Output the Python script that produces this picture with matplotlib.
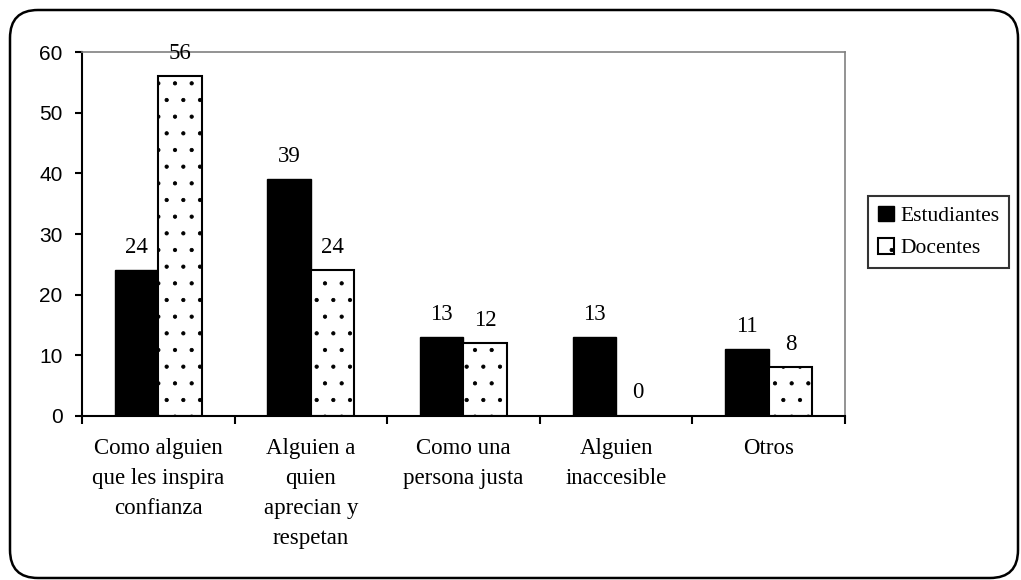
import numpy as np
import matplotlib.pyplot as plt
from matplotlib.patches import FancyBboxPatch

categorias = ["Como alguien\nque les inspira\nconfianza",
              "Alguien a\nquien\naprecian y\nrespetan",
              "Como una\npersona justa",
              "Alguien\ninaccesible",
              "Otros"]
estudiantes = [24, 39, 13, 13, 11]
docentes = [56, 24, 12, 0, 8]

plt.rcParams['hatch.linewidth'] = 0.6
plt.rcParams['hatch.color'] = '#333333'

fig = plt.figure(figsize=(10.21, 5.80), dpi=100)
ax = fig.add_axes([0.0803, 0.2828, 0.7473, 0.6275])

x = np.arange(len(categorias))
w = 0.285
b1 = ax.bar(x - w / 2, estudiantes, w, color='black', edgecolor='black',
            label='Estudiantes')
b2 = ax.bar(x + w / 2, docentes, w, color='white', edgecolor='black',
            linewidth=1.5, hatch='.', label='Docentes')

serif = ['Liberation Serif', 'DejaVu Serif']
for barras, vals in ((b1, estudiantes), (b2, docentes)):
    for r, v in zip(barras, vals):
        ax.annotate(str(v), (r.get_x() + r.get_width() / 2, v),
                    xytext=(0, 9), textcoords='offset points',
                    ha='center', va='bottom', fontsize=16.5, family=serif)

ax.set_xlim(-0.5, len(categorias) - 0.5)
ax.set_ylim(0, 60)
ax.set_yticks(range(0, 61, 10))
ax.tick_params(axis='y', labelsize=15, length=5, width=1.5, direction='out',
               pad=9)
for t in ax.get_yticklabels():
    t.set_family('Liberation Sans')

ax.set_xticks(np.arange(-0.5, len(categorias), 1))
ax.set_xticklabels([])
ax.tick_params(axis='x', length=6, width=1.5, direction='out')
ax.set_xticks(x, minor=True)
ax.set_xticklabels(categorias, minor=True, family=serif, fontsize=16.5,
                   linespacing=1.55, va='top')
ax.tick_params(axis='x', which='minor', length=0, pad=16)

ax.spines['left'].set_linewidth(1.5)
ax.spines['bottom'].set_linewidth(1.5)
ax.spines['top'].set_color('gray')
ax.spines['right'].set_color('gray')
ax.spines['top'].set_linewidth(1.2)
ax.spines['right'].set_linewidth(1.2)

leg = fig.legend(handles=[b1, b2], loc='center left',
                 bbox_to_anchor=(0.85, 0.600), prop={'family': serif, 'size': 15.5},
                 frameon=True, fancybox=False, edgecolor='black',
                 handlelength=0.75, handleheight=0.75, handletextpad=0.3,
                 borderpad=0.45, labelspacing=0.55, borderaxespad=0)
leg.get_frame().set_linewidth(1.5)

marco = FancyBboxPatch((0.10, 0.02), 10.08, 5.68,
                       boxstyle='round,pad=0,rounding_size=0.28',
                       transform=fig.dpi_scale_trans, facecolor='none',
                       edgecolor='black', linewidth=1.8)
fig.patches.append(marco)

fig.savefig('out.png', dpi=100)
